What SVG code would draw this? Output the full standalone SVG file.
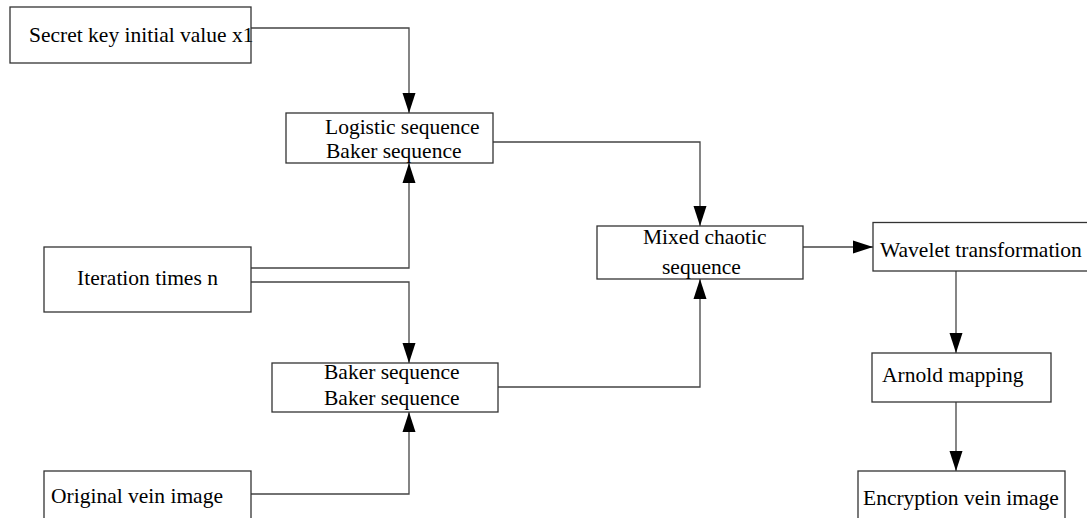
<svg xmlns="http://www.w3.org/2000/svg" width="1087" height="518" viewBox="0 0 1087 518">
<defs>
<marker id="arr" markerUnits="userSpaceOnUse" markerWidth="20" markerHeight="14" refX="20" refY="7" orient="auto" viewBox="0 0 20 14">
<polygon points="0,0.5 20,7 0,13.5" fill="#000"/>
</marker>
<style>
.box{fill:#fff;stroke:#333;stroke-width:1.3}
.t{font-family:"Liberation Serif","Times New Roman",serif;font-size:21.5px;fill:#000}
.c{fill:none;stroke:#444;stroke-width:1.3}
</style>
</defs>
<rect width="1087" height="518" fill="#fff"/>
<g id="connectors">
<path class="c" d="M251,28 H409 V113" marker-end="url(#arr)"/>
<path class="c" d="M493,142 H700 V226" marker-end="url(#arr)"/>
<path class="c" d="M251,268 H409 V163" marker-end="url(#arr)"/>
<path class="c" d="M251,282 H409 V363" marker-end="url(#arr)"/>
<path class="c" d="M251,494 H409 V412" marker-end="url(#arr)"/>
<path class="c" d="M498,387 H700 V279" marker-end="url(#arr)"/>
<path class="c" d="M803,247 H873" marker-end="url(#arr)"/>
<path class="c" d="M956,271 V353" marker-end="url(#arr)"/>
<path class="c" d="M956,402 V471" marker-end="url(#arr)"/>
</g>
<g id="secret-key">
<rect class="box" x="10" y="7" width="241" height="56"/>
<text class="t" x="29" y="42">Secret key initial value x1</text>
</g>
<g id="logistic">
<rect class="box" x="286" y="113" width="207" height="50"/>
<text class="t" x="325" y="134">Logistic sequence</text>
<text class="t" x="326" y="158">Baker sequence</text>
</g>
<g id="iteration">
<rect class="box" x="44" y="247" width="207" height="65"/>
<text class="t" x="77" y="285">Iteration times n</text>
</g>
<g id="baker">
<rect class="box" x="272" y="363" width="226" height="49"/>
<text class="t" x="324" y="379">Baker sequence</text>
<text class="t" x="324" y="405">Baker sequence</text>
</g>
<g id="original">
<rect class="box" x="44" y="471" width="207" height="60"/>
<text class="t" x="51" y="503">Original vein image</text>
</g>
<g id="mixed">
<rect class="box" x="597" y="226" width="206" height="53"/>
<text class="t" x="643" y="244">Mixed chaotic</text>
<text class="t" x="662" y="274">sequence</text>
</g>
<g id="wavelet">
<rect class="box" x="873" y="222.5" width="230" height="48.5"/>
<text class="t" x="880" y="257">Wavelet transformation</text>
</g>
<g id="arnold">
<rect class="box" x="872" y="353" width="179" height="49"/>
<text class="t" x="882" y="382">Arnold mapping</text>
</g>
<g id="encryption">
<rect class="box" x="858" y="471" width="207" height="60"/>
<text class="t" x="863" y="505">Encryption vein image</text>
</g>
</svg>
